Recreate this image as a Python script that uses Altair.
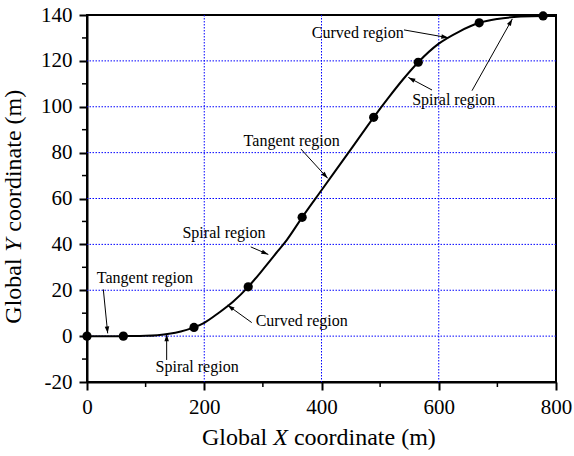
import math

import altair as alt
import pandas as pd

FONT = "Times New Roman, Liberation Serif, serif"
W, H = 469, 367
X_DOMAIN = [0, 800]
Y_DOMAIN = [-20, 140]

# Road centreline (global coordinates, m)
curve_x = [0, 62, 80, 100, 120, 140, 160, 182.5, 200, 225, 250, 275, 300, 325,
           341, 367, 400, 450, 489, 515, 540, 565, 600, 635, 669, 700, 740, 778, 800]
curve_y = [0, 0, 0.01, 0.12, 0.42, 1.0, 2.0, 3.8, 5.8, 10.2, 15.2, 21.5, 29.0, 36.9,
           42.0, 51.8, 63.6, 81.4, 95.4, 104.2, 112.2, 119.4, 127.5, 132.8, 136.6,
           138.3, 139.3, 139.6, 139.6]

# Transition points between alignment elements
station_x = [0, 62, 182.5, 275, 367, 489, 565, 669, 778]
station_y = [0, 0, 3.8, 21.5, 51.8, 95.4, 119.4, 136.6, 139.6]

# Region labels
label_text = ["Curved region", "Spiral region", "Tangent region", "Spiral region",
              "Tangent region", "Curved region", "Spiral region"]
label_x = [461.9, 625.5, 349.2, 233.7, 98.7, 366.2, 187.8]
label_y = [132.0, 103.0, 85.2, 44.8, 25.2, 6.7, -13.3]

# Leader arrows: tail (x0, y0) -> head (x1, y1)
arrow_x0 = [540.7, 588.5, 656.7, 364.8, 279.3, 27.8, 281.0, 135.9]
arrow_y0 = [133.5, 107.3, 107.0, 81.6, 38.9, 20.4, 5.9, -10.4]
arrow_x1 = [616.3, 548.1, 725.5, 410.6, 309.3, 35.3, 239.8, 135.9]
arrow_y1 = [130.1, 112.8, 138.3, 68.8, 35.6, 1.2, 13.5, 0.8]

x_ticks = [0, 200, 400, 600, 800]
y_ticks = [-20, 0, 20, 40, 60, 80, 100, 120, 140]
x_minor = [100, 300, 500, 700]
y_minor = [-10, 10, 30, 50, 70, 90, 110, 130]
grid_x = [200, 400, 600]
grid_y = [0, 20, 40, 60, 80, 100, 120]

curve_df = pd.DataFrame({"x": curve_x, "y": curve_y})
station_df = pd.DataFrame({"x": station_x, "y": station_y})
label_df = pd.DataFrame({"x": label_x, "y": label_y, "text": label_text})
arrow_df = pd.DataFrame({"x0": arrow_x0, "y0": arrow_y0, "x1": arrow_x1, "y1": arrow_y1})


def head_angle(r):
    # screen-space direction of each arrow, clockwise from "up"
    dx = (r.x1 - r.x0) / (X_DOMAIN[1] - X_DOMAIN[0]) * W
    dy = -(r.y1 - r.y0) / (Y_DOMAIN[1] - Y_DOMAIN[0]) * H
    return math.degrees(math.atan2(dx, -dy)) % 360


arrow_df["angle"] = arrow_df.apply(head_angle, axis=1)

xs = alt.Scale(domain=X_DOMAIN, nice=False, zero=False)
ys = alt.Scale(domain=Y_DOMAIN, nice=False, zero=False)

axis_common = dict(title=None, grid=False, tickSize=8, tickWidth=2,
                   tickColor="black", domainColor="black", domainWidth=2,
                   labelFont=FONT, labelFontSize=21, labelColor="black",
                   labelFlush=False, labelOverlap=False,
                   labelExpr="'' + datum.value")
x_axis = alt.Axis(values=x_ticks, labelPadding=6, **axis_common)
y_axis = alt.Axis(values=y_ticks, labelPadding=7, **axis_common)


def X(field):
    return alt.X(field, scale=xs, axis=x_axis)


def Y(field):
    return alt.Y(field, scale=ys, axis=y_axis)


grid_blue = dict(color="#0000ff", strokeWidth=1, strokeDash=[1.5, 1.5])

vgrid = alt.Chart(pd.DataFrame({"x": grid_x})).mark_rule(**grid_blue).encode(
    x=X("x:Q")
)
hgrid = alt.Chart(pd.DataFrame({"y": grid_y})).mark_rule(**grid_blue).encode(
    y=Y("y:Q")
)

x_minor_ticks = alt.Chart(pd.DataFrame({"x": x_minor})).mark_rule(
    color="black", strokeWidth=1.5
).encode(
    x=X("x:Q"),
    y=alt.value(H), y2=alt.value(H + 5),
)
y_minor_ticks = alt.Chart(pd.DataFrame({"y": y_minor})).mark_rule(
    color="black", strokeWidth=1.5
).encode(
    y=Y("y:Q"),
    x=alt.value(0), x2=alt.value(-5),
)

line = alt.Chart(curve_df).mark_line(
    color="black", strokeWidth=2, interpolate="monotone"
).encode(x=X("x:Q"), y=Y("y:Q"))

stations = alt.Chart(station_df).mark_point(
    filled=True, color="black", size=85, opacity=1
).encode(x=X("x:Q"), y=Y("y:Q"))

shafts = alt.Chart(arrow_df).mark_rule(color="black", strokeWidth=1).encode(
    x=X("x0:Q"), y=Y("y0:Q"), x2="x1:Q", y2="y1:Q",
)

heads = alt.Chart(arrow_df).mark_point(
    shape="M0,0L-0.32,1L0.32,1Z", filled=True, color="black", size=196, opacity=1
).encode(
    x=X("x1:Q"), y=Y("y1:Q"),
    angle=alt.Angle("angle:Q", scale=None),
)

labels = alt.Chart(label_df).mark_text(
    font=FONT, fontSize=16, color="black", align="center", baseline="middle"
).encode(x=X("x:Q"), y=Y("y:Q"), text="text:N")


def title_piece(text, x, y, align, italic=False, angle=0):
    props = dict(font=FONT, fontSize=24, color="black", align=align,
                 baseline="alphabetic", angle=angle)
    if italic:
        props["fontStyle"] = "italic"
    return alt.Chart(pd.DataFrame({"t": [text]})).mark_text(**props).encode(
        x=alt.value(x), y=alt.value(y), text="t:N"
    )


x_title = [
    title_piece("Global", 180.3, 430, "right"),
    title_piece("X", 193.6, 430, "center", italic=True),
    title_piece("coordinate (m)", 206.9, 430, "left"),
]
y_title = [
    title_piece("Global", -66, 243.3, "right", angle=270),
    title_piece("Y", -66, 230, "center", italic=True, angle=270),
    title_piece("coordinate (m)", -66, 216.7, "left", angle=270),
]

chart = alt.layer(
    vgrid, hgrid, x_minor_ticks, y_minor_ticks, line, shafts, heads, stations, labels,
    *x_title, *y_title,
).properties(
    width=W,
    height=H,
    autosize=alt.AutoSizeParams(type="none"),
    padding={"left": 87, "top": 15, "right": 18, "bottom": 74},
    background="white",
).configure_view(
    stroke="black", strokeWidth=2
)

chart.save("out.html", embed_options={"renderer": "svg", "actions": False})
